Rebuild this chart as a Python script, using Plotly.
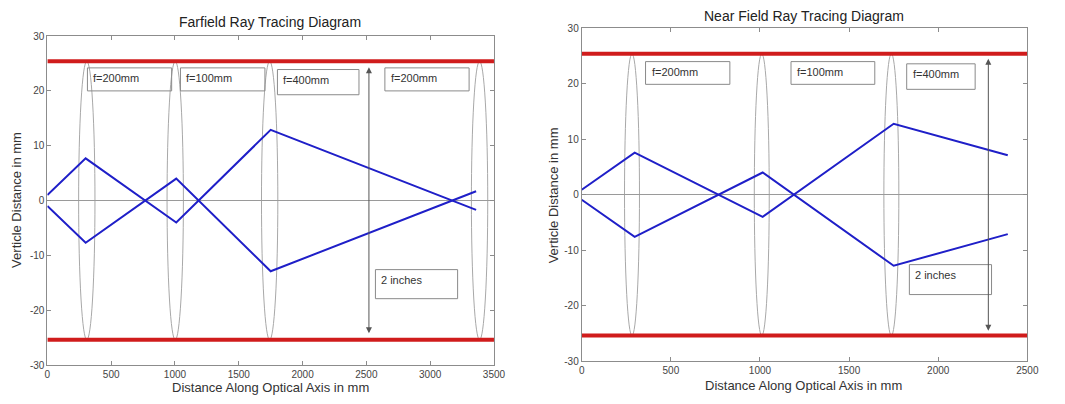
import plotly.graph_objects as go

# ---------------- data ----------------
far_x = [0, 300, 1010, 1750, 3360]
far_ray1 = [1.0, 7.7, -4.0, 12.9, -1.7]
far_ray2 = [-1.0, -7.7, 4.0, -12.9, 1.7]
far_lens_centers = [309, 1002, 1742, 3387]
far_labels = ["f=200mm", "f=100mm", "f=400mm", "f=200mm"]

near_x = [0, 297, 1015, 1750, 2390]
near_ray1 = [0.9, 7.6, -4.0, 12.8, 7.1]
near_ray2 = [-0.9, -7.6, 4.0, -12.8, -7.1]
near_lens_centers = [282, 1010, 1737]
near_labels = ["f=200mm", "f=100mm", "f=400mm"]

aperture = 25.4  # 1 inch half-aperture (2 inches total)
far_xticks = [0, 500, 1000, 1500, 2000, 2500, 3000, 3500]
near_xticks = [0, 500, 1000, 1500, 2000, 2500]
yticks = [-30, -20, -10, 0, 10, 20, 30]
ytick_text = ["-30", "-20", "-10", "0", "10", "20", "30"]

# ---------------- layout helpers ----------------
far_boxes = [(314, 974, 24.2, 20.0), (1043, 1705, 24.2, 20.0),
             (1803, 2442, 23.9, 19.3), (2645, 3305, 24.2, 20.0)]
far_inch_box = (2571, 3215, -12.6, -17.9)
far_arrow_x = 2520
near_boxes = [(358, 831, 24.0, 19.9), (1174, 1644, 24.0, 19.9),
              (1823, 2207, 23.6, 19.0)]
near_inch_box = (1838, 2299, -12.6, -18.0)
near_arrow_x = 2281

FONT = "Liberation Sans, Arial, sans-serif"
RED = "#d01c1c"
BLUE = "#1f1fc8"

fig = go.Figure()
shapes = []
annotations = []


def add_panel(xref, yref, xs, r1, r2, xmax, centers, half_w, labels, boxes,
              inch_box, arrow_x, arrow_y0, arrow_y1):
    # lenses
    for c in centers:
        shapes.append(dict(type="circle", xref=xref, yref=yref,
                           x0=c - half_w, x1=c + half_w,
                           y0=-aperture, y1=aperture,
                           line=dict(color="#a8a8a8", width=1), layer="below"))
    # aperture lines
    for s in (1, -1):
        fig.add_trace(go.Scatter(x=[0, xmax], y=[s * aperture, s * aperture],
                                 mode="lines", line=dict(color=RED, width=4),
                                 xaxis=xref, yaxis=yref, showlegend=False,
                                 hoverinfo="skip"))
    # rays
    for r in (r1, r2):
        fig.add_trace(go.Scatter(x=xs, y=r, mode="lines",
                                 line=dict(color=BLUE, width=2),
                                 xaxis=xref, yaxis=yref, showlegend=False))
    # label boxes
    all_boxes = list(zip(labels, boxes)) + [("2 inches", inch_box)]
    for lab, (x0, x1, yt, yb) in all_boxes:
        shapes.append(dict(type="rect", xref=xref, yref=yref, x0=x0, x1=x1,
                           y0=yb, y1=yt, line=dict(color="#8a8a8a", width=1)))
        annotations.append(dict(x=x0, y=yt, xref=xref, yref=yref, text=lab,
                                showarrow=False, xanchor="left", yanchor="top",
                                xshift=4, yshift=-2,
                                font=dict(family=FONT, size=11, color="#333333")))
    # double arrow
    annotations.append(dict(x=arrow_x, y=arrow_y1, ax=arrow_x, ay=arrow_y0,
                            xref=xref, yref=yref, axref=xref, ayref=yref,
                            text="", showarrow=True, arrowhead=2,
                            arrowside="end+start", arrowsize=1.2,
                            arrowwidth=1, arrowcolor="#555555"))


add_panel("x", "y", far_x, far_ray1, far_ray2, 3500, far_lens_centers, 64,
          far_labels, far_boxes, far_inch_box, far_arrow_x, -24.5, 24.3)
add_panel("x2", "y2", near_x, near_ray1, near_ray2, 2500, near_lens_centers, 42,
          near_labels, near_boxes, near_inch_box, near_arrow_x, -24.8, 24.5)

W, H = 1065, 404


def px_x(p):
    return p / W


def px_y(p):
    return 1 - p / H


axis_common = dict(showline=True, mirror="ticks", linecolor="#8c8c8c",
                   linewidth=1, ticks="inside", ticklen=4, tickcolor="#8c8c8c",
                   showgrid=False,
                   tickfont=dict(family=FONT, size=10, color="#444444"))

fig.update_layout(
    width=W, height=H, margin=dict(l=0, r=0, t=0, b=0),
    paper_bgcolor="white", plot_bgcolor="white",
    xaxis=dict(domain=[px_x(45), px_x(498)], range=[0, 3500],
               tickvals=far_xticks, zeroline=False, anchor="y", **axis_common),
    yaxis=dict(domain=[px_y(370), px_y(31)], range=[-30, 30], tickvals=yticks,
               ticktext=ytick_text,
               zeroline=True, zerolinecolor="#9a9a9a", zerolinewidth=1,
               anchor="x", **axis_common),
    xaxis2=dict(domain=[px_x(587), px_x(1039)], range=[0, 2500],
                tickvals=near_xticks, zeroline=False, anchor="y2", **axis_common),
    yaxis2=dict(domain=[px_y(366), px_y(23)], range=[-30, 30], tickvals=yticks,
                ticktext=ytick_text,
                zeroline=True, zerolinecolor="#9a9a9a", zerolinewidth=1,
                anchor="x2", **axis_common),
    shapes=shapes,
)

text_font = dict(family=FONT, size=14, color="#222222")
label_font = dict(family=FONT, size=13, color="#333333")
common = dict(xref="paper", yref="paper", showarrow=False,
              xanchor="center", yanchor="middle")
annotations += [
    dict(x=px_x(271), y=px_y(17), text="Farfield Ray Tracing Diagram",
         font=text_font, **common),
    dict(x=px_x(812), y=px_y(10), text="Near Field Ray Tracing Diagram",
         font=text_font, **common),
    dict(x=px_x(271), y=px_y(393), text="Distance Along Optical Axis in mm",
         font=label_font, **common),
    dict(x=px_x(812), y=px_y(391), text="Distance Along Optical Axis in mm",
         font=label_font, **common),
    dict(x=px_x(13), y=px_y(200), textangle=-90,
         text="Verticle Distance in mm", font=label_font, **common),
    dict(x=px_x(558), y=px_y(195), textangle=-90,
         text="Verticle Distance in mm", font=label_font, **common),
]
fig.update_layout(annotations=annotations)

fig.write_html("out.html")
